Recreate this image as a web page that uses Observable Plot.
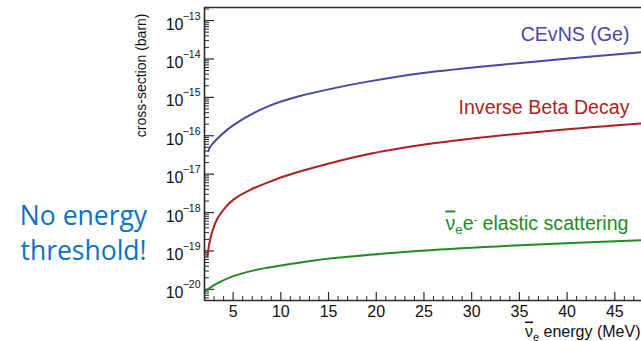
<!DOCTYPE html>
<html>
<head>
<meta charset="utf-8">
<script src="https://cdn.jsdelivr.net/npm/d3@7"></script>
<script src="https://cdn.jsdelivr.net/npm/@observablehq/plot@0.6"></script>
<style>
  body { margin: 0; background: #fff; }
  #chart svg { display: block; }
</style>
</head>
<body>
<div id="chart"></div>
<script>
// Neutrino cross-sections (barn) versus antineutrino energy (MeV)
const seriesNames = ["CEvNS (Ge)", "Inverse Beta Decay", "elastic scattering"];

const energyCevns = [2.4, 2.66, 3.7, 5.1, 8.6, 12.1, 15.6, 19.1, 24.7, 35.1, 47.8];
const sigmaCevns  = [3.98e-17, 5.4e-17, 1.02e-16, 1.95e-16, 5.75e-16, 1.1e-15, 1.74e-15, 2.57e-15, 4.27e-15, 7.9e-15, 1.51e-14];

const energyIbd = [2.3, 2.49, 2.84, 3.37, 4.24, 5.1, 6.85, 8.6, 10.3, 13.1, 19.1, 24.7, 28.1, 38.6, 47.8];
const sigmaIbd  = [7.08e-20, 1.51e-19, 3.39e-19, 7.08e-19, 1.41e-18, 2.24e-18, 3.98e-18, 6.03e-18, 8.71e-18, 1.41e-17, 3.31e-17, 5.75e-17, 7.41e-17, 1.38e-16, 2.09e-16];

const energyEs = [2.14, 3.37, 5.1, 6.85, 8.6, 10.3, 13.1, 15.6, 19.1, 24.7, 35.1, 47.8];
const sigmaEs  = [9.33e-21, 1.46e-20, 2.24e-20, 2.99e-20, 3.67e-20, 4.32e-20, 5.5e-20, 6.53e-20, 7.85e-20, 1.01e-19, 1.41e-19, 1.91e-19];

const xTickLabels = [5, 10, 15, 20, 25, 30, 35, 40, 45];
const xMinorTicks = d3.range(3, 48).filter(e => e % 5 !== 0);
const yDecades = [-20, -19, -18, -17, -16, -15, -14, -13];

const xDomain = [2, 47.8];
const yDomain = [5.13e-21, 2.19e-13];

const yMinorTicks = d3.range(-21, -12).flatMap(d => d3.range(2, 10).map(k => k * 10 ** d))
  .filter(v => v > yDomain[0] && v < yDomain[1]);

const rows = [
  ...energyCevns.map((e, i) => ({series: seriesNames[0], energy: e, sigma: sigmaCevns[i]})),
  ...energyIbd.map((e, i) => ({series: seriesNames[1], energy: e, sigma: sigmaIbd[i]})),
  ...energyEs.map((e, i) => ({series: seriesNames[2], energy: e, sigma: sigmaEs[i]}))
];

const W = 641, H = 341;
const M = {left: 204, right: 0, top: 7, bottom: 41};
const frameW = W - M.left - M.right;
const frameH = H - M.top - M.bottom;
const ink = "#2a2a2a";

const chart = Plot.plot({
  width: W,
  height: H,
  marginLeft: M.left,
  marginRight: M.right,
  marginTop: M.top,
  marginBottom: M.bottom,
  style: {fontFamily: "'Liberation Sans', Arial, sans-serif", fontSize: "15px", background: "#fff", overflow: "visible"},
  x: {domain: xDomain, axis: null},
  y: {type: "log", domain: yDomain, axis: null},
  color: {domain: seriesNames, range: ["#4747a8", "#b01e22", "#238a23"]},
  marks: [
    // tick marks pointing into the frame
    Plot.tickX(xMinorTicks, {x: d => d, insetTop: frameH - 4, stroke: ink, strokeWidth: 1}),
    Plot.tickX(xTickLabels, {x: d => d, insetTop: frameH - 8, stroke: ink, strokeWidth: 1.2}),
    Plot.tickY(yMinorTicks, {y: d => d, insetRight: frameW - 5, stroke: ink, strokeWidth: 1}),
    Plot.tickY(yDecades, {y: d => 10 ** d, insetRight: frameW - 10, stroke: ink, strokeWidth: 1.2}),
    // frame: left, bottom and top edges
    Plot.ruleX([xDomain[0]], {stroke: ink, strokeWidth: 1.6}),
    Plot.ruleY([yDomain[0], yDomain[1]], {stroke: ink, strokeWidth: 1.6}),
    // cross-section curves
    Plot.line(rows, {x: "energy", y: "sigma", z: "series", stroke: "series", strokeWidth: 2, curve: "catmull-rom", clip: true}),
    // x tick labels
    Plot.text(xTickLabels, {x: d => d, frameAnchor: "bottom", text: d => String(d), lineAnchor: "top", dy: 5, fontSize: 16, fill: "#111"}),
    // y tick labels: mantissa and exponent
    Plot.text(yDecades, {y: d => 10 ** d, frameAnchor: "left", text: () => "10", textAnchor: "end", lineAnchor: "middle", dx: -21, dy: 4, fontSize: 16, fill: "#111"}),
    Plot.text(yDecades, {y: d => 10 ** d, frameAnchor: "left", text: d => "\u2212" + (-d), textAnchor: "end", lineAnchor: "bottom", dx: -4, dy: -1, fontSize: 10.5, fill: "#111"}),
    // axis titles
    Plot.text(["cross-section (barn)"], {frameAnchor: "top-left", rotate: -90, textAnchor: "end", lineAnchor: "middle", dx: -63, dy: 6, fontSize: 14, fill: "#111"}),
    Plot.text(["energy (MeV)"], {frameAnchor: "bottom-right", textAnchor: "end", lineAnchor: "bottom", dx: -1, dy: 36, fontSize: 16, fill: "#111"}),
    // curve labels
    Plot.text([seriesNames[0]], {frameAnchor: "top-right", text: d => d, fill: d => d, textAnchor: "end", lineAnchor: "bottom", dx: -12, dy: 33, fontSize: 19.6}),
    Plot.text([seriesNames[1]], {frameAnchor: "top-right", text: d => d, fill: d => d, textAnchor: "end", lineAnchor: "bottom", dx: -12, dy: 106, fontSize: 19.6}),
    Plot.text([seriesNames[2]], {frameAnchor: "top-right", text: d => d, fill: d => d, textAnchor: "end", lineAnchor: "bottom", dx: -13, dy: 222, fontSize: 19.6}),
    // side note
    Plot.text(["No energy\nthreshold!"], {frameAnchor: "top-left", textAnchor: "middle", lineAnchor: "top", dx: -121, dy: 192, fontSize: 26.5, lineHeight: 1.33, fontFamily: "'Open Sans', sans-serif", fill: "#0a72c4"})
  ]
});

// Prefix a label with the electron-antineutrino symbol: nu with a bar and subscript e
const svg = d3.select(chart);
const byText = s => svg.selectAll("text").filter(function () { return this.textContent === s; });
const prefixNuBar = (sel, size, extra) => sel.each(function () {
  const t = d3.select(this);
  const rest = this.textContent;
  t.text(null);
  t.append("tspan").attr("text-decoration", "overline").text("\u03bd");
  t.append("tspan").attr("dy", size * 0.25).attr("font-size", size * 0.68).text("e");
  if (extra) {
    t.append("tspan").attr("dy", -size * 0.25).text("e");
    t.append("tspan").attr("dy", -size * 0.35).attr("font-size", size * 0.55).text("-");
    t.append("tspan").attr("dy", size * 0.35).text(" " + rest);
  } else {
    t.append("tspan").attr("dy", -size * 0.25).text(" " + rest);
  }
});
prefixNuBar(byText(seriesNames[2]), 19.6, true);
prefixNuBar(byText("energy (MeV)"), 16, false);

document.getElementById("chart").appendChild(chart);
</script>
</body>
</html>
